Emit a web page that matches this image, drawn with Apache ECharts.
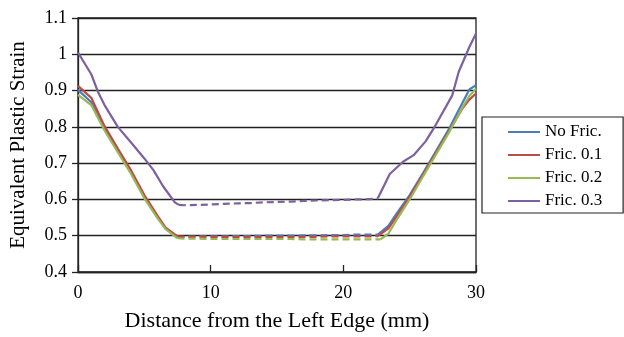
<!DOCTYPE html>
<html>
<head>
<meta charset="utf-8">
<script src="https://cdn.jsdelivr.net/npm/echarts@6/dist/echarts.min.js"></script>
<style>html,body{margin:0;padding:0;background:#fff}#c{width:624px;height:337px}</style>
</head>
<body>
<div id="c"></div>
<script>
// Series names
var seriesNames = ['No Fric.', 'Fric. 0.1', 'Fric. 0.2', 'Fric. 0.3'];
var xTicks = [0, 10, 20, 30];
var yTicks = [0.4, 0.5, 0.6, 0.7, 0.8, 0.9, 1, 1.1];

// No Fric.
var noFricLeftX = [0, 1, 2, 3, 4, 5, 6, 6.6, 7.5];
var noFricLeftY = [0.902, 0.868, 0.795, 0.735, 0.675, 0.607, 0.552, 0.520, 0.497];
var noFricMidX = [7.5, 8, 9, 10, 11, 12, 13, 14, 15, 16, 17, 18, 19, 20, 21, 22, 22.6];
var noFricMidY = [0.497, 0.497, 0.498, 0.498, 0.498, 0.499, 0.499, 0.500, 0.500, 0.500, 0.501, 0.501, 0.502, 0.502, 0.503, 0.503, 0.503];
var noFricRightX = [22.6, 23.4, 24, 25, 26, 27, 28, 29, 29.5, 30];
var noFricRightY = [0.503, 0.527, 0.560, 0.612, 0.672, 0.734, 0.797, 0.868, 0.903, 0.915];

// Fric. 0.1
var fric1LeftX = [0, 1, 2, 3, 4, 5, 6, 6.6, 7.5];
var fric1LeftY = [0.913, 0.880, 0.802, 0.740, 0.680, 0.612, 0.555, 0.522, 0.498];
var fric1MidX = [7.5, 8, 9, 10, 11, 12, 13, 14, 15, 16, 17, 18, 19, 20, 21, 22, 22.6];
var fric1MidY = [0.498, 0.497, 0.497, 0.497, 0.497, 0.497, 0.497, 0.497, 0.497, 0.497, 0.497, 0.497, 0.498, 0.498, 0.498, 0.498, 0.499];
var fric1RightX = [22.6, 23.4, 24, 25, 26, 27, 28, 29, 29.5, 30];
var fric1RightY = [0.499, 0.520, 0.552, 0.607, 0.668, 0.730, 0.790, 0.852, 0.875, 0.892];

// Fric. 0.2
var fric2LeftX = [0, 1, 2, 3, 4, 5, 6, 6.6, 7.5];
var fric2LeftY = [0.888, 0.860, 0.790, 0.730, 0.670, 0.603, 0.548, 0.518, 0.493];
var fric2MidX = [7.5, 8, 9, 10, 11, 12, 13, 14, 15, 16, 17, 18, 19, 20, 21, 22, 22.8];
var fric2MidY = [0.493, 0.492, 0.492, 0.491, 0.491, 0.491, 0.491, 0.491, 0.491, 0.491, 0.490, 0.490, 0.490, 0.490, 0.490, 0.490, 0.490];
var fric2RightX = [22.8, 23.4, 24, 25, 26, 27, 28, 29, 29.5, 30];
var fric2RightY = [0.490, 0.506, 0.543, 0.600, 0.663, 0.725, 0.787, 0.855, 0.885, 0.905];

// Fric. 0.3
var fric3LeftX = [0, 1, 1.5, 2, 3, 4, 5, 5.7, 6.4, 7.3, 7.6];
var fric3LeftY = [1.005, 0.945, 0.897, 0.860, 0.800, 0.757, 0.713, 0.680, 0.637, 0.592, 0.585];
var fric3MidX = [7.6, 8, 9, 10, 11, 12, 13, 14, 15, 16, 17, 18, 19, 20, 21, 22, 22.6];
var fric3MidY = [0.585, 0.584, 0.585, 0.586, 0.588, 0.589, 0.590, 0.592, 0.593, 0.594, 0.596, 0.597, 0.598, 0.599, 0.600, 0.601, 0.603];
var fric3RightX = [22.6, 23.5, 24.5, 25.3, 26.2, 26.8, 28.2, 28.7, 29.5, 30];
var fric3RightY = [0.603, 0.670, 0.704, 0.722, 0.760, 0.795, 0.886, 0.952, 1.020, 1.057];

var colors = ['#4A7EBB', '#BE4B48', '#98B954', '#7D60A0'];

function pairs(xs, ys) {
  return xs.map(function (x, i) { return [x, ys[i]]; });
}

var groups = [
  [noFricLeftX, noFricLeftY, noFricMidX, noFricMidY, noFricRightX, noFricRightY],
  [fric1LeftX, fric1LeftY, fric1MidX, fric1MidY, fric1RightX, fric1RightY],
  [fric2LeftX, fric2LeftY, fric2MidX, fric2MidY, fric2RightX, fric2RightY],
  [fric3LeftX, fric3LeftY, fric3MidX, fric3MidY, fric3RightX, fric3RightY]
];

var series = [];
groups.forEach(function (g, i) {
  var base = {
    type: 'line', name: seriesNames[i], symbol: 'none', smooth: false,
    color: colors[i], animation: false, z: 2 + i
  };
  series.push(Object.assign({}, base, { data: pairs(g[0], g[1]), lineStyle: { width: 2.2, color: colors[i], type: 'solid' } }));
  series.push(Object.assign({}, base, { data: pairs(g[2], g[3]), lineStyle: { width: 2.2, color: colors[i], type: [7, 4] } }));
  series.push(Object.assign({}, base, { data: pairs(g[4], g[5]), lineStyle: { width: 2.2, color: colors[i], type: 'solid' } }));
});

var font = '"Liberation Serif", "Times New Roman", serif';
var chart = echarts.init(document.getElementById('c'), null, { renderer: 'canvas' });
chart.setOption({
  animation: false,
  backgroundColor: '#fff',
  grid: { left: 78, top: 18, right: 148, bottom: 62, show: true, borderColor: '#222', borderWidth: 1.3, backgroundColor: 'transparent' },
  legend: {
    orient: 'vertical', left: 482, top: 117,
    data: seriesNames.map(function (n, i) { return { name: n, itemStyle: { color: colors[i] } }; }),
    icon: 'rect',
    itemWidth: 32, itemHeight: 2, itemGap: 5,
    padding: [6, 21, 3, 26],
    borderColor: '#222', borderWidth: 1.2,
    textStyle: { fontFamily: font, fontSize: 17, color: '#000', lineHeight: 18 }
  },
  xAxis: {
    type: 'value', min: 0, max: 30, interval: 10,
    name: 'Distance from the Left Edge (mm)', nameLocation: 'middle', nameGap: 38,
    nameTextStyle: { fontFamily: font, fontSize: 22, color: '#000' },
    axisLine: { show: true, onZero: false, lineStyle: { color: '#222', width: 1.3 } },
    axisTick: { show: true, inside: true, length: 7, lineStyle: { color: '#222', width: 1.3 } },
    axisLabel: { fontFamily: font, fontSize: 18, color: '#000', margin: 12 },
    splitLine: { show: false }
  },
  yAxis: {
    type: 'value', min: 0.4, max: 1.1, interval: 0.1,
    name: 'Equivalent Plastic Strain', nameLocation: 'middle', nameGap: 49, nameRotate: 90,
    nameTextStyle: { fontFamily: font, fontSize: 21, color: '#000' },
    axisLine: { show: true, lineStyle: { color: '#222', width: 1.3 } },
    axisTick: { show: true, length: 6, lineStyle: { color: '#222', width: 1.3 } },
    axisLabel: { fontFamily: font, fontSize: 18, color: '#000', margin: 11,
      formatter: function (v) { var r = Math.round(v * 10) / 10; return String(r); } },
    splitLine: { show: true, lineStyle: { color: '#222', width: 1.3 } }
  },
  series: series
});
</script>
</body>
</html>
